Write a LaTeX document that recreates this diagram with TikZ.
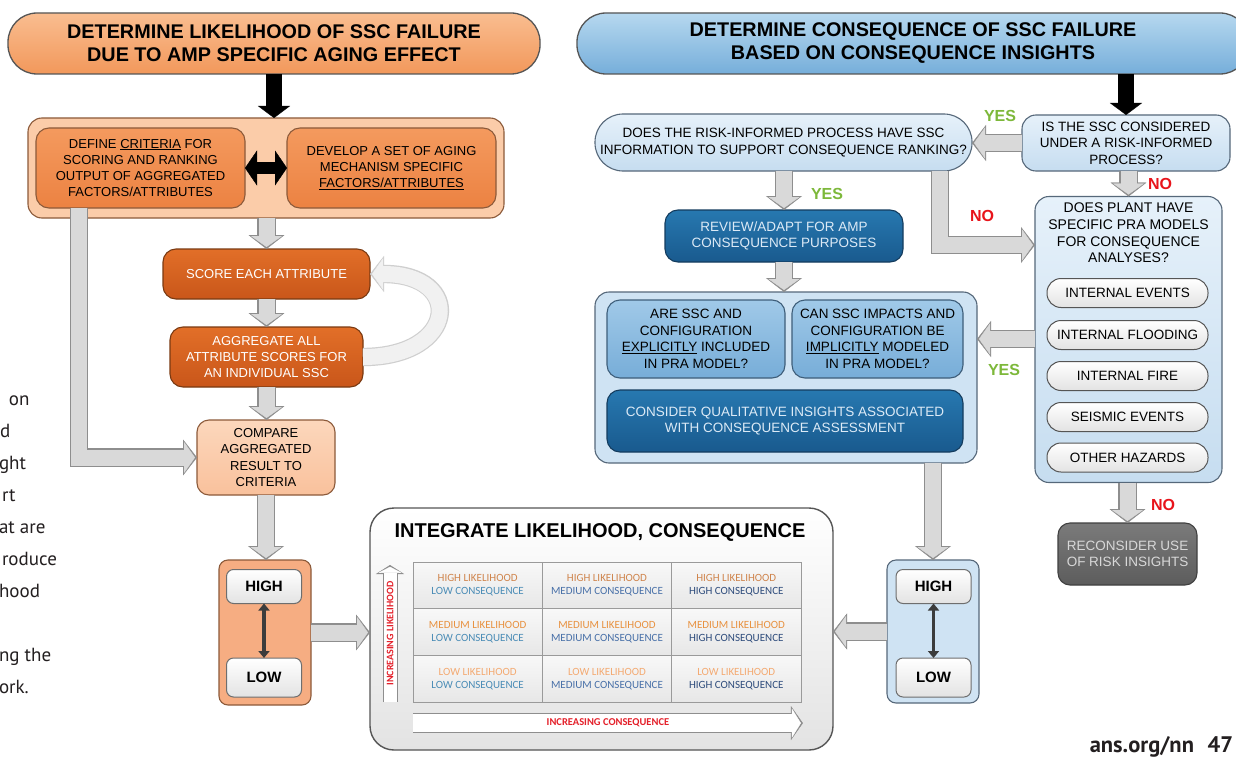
\documentclass[tikz,border=0pt]{standalone}
\usepackage{fontspec}
\setmainfont{Liberation Sans}
\newfontfamily\cellfont{Carlito}
\newfontfamily\pagefont{PT Sans}
\usepackage{tikz}
\usetikzlibrary{arrows.meta, positioning}

\definecolor{edgeDk}{HTML}{555555}
\definecolor{oTtlT}{HTML}{F9BD90}
\definecolor{oTtlB}{HTML}{F2985B}
\definecolor{oEdge}{HTML}{8C5A3A}
\definecolor{oPale}{HTML}{FBCCA9}
\definecolor{oPaleT}{HTML}{FCD7BC}
\definecolor{oPaleB}{HTML}{F9C19C}
\definecolor{oMidT}{HTML}{F49A5E}
\definecolor{oMidB}{HTML}{EC8242}
\definecolor{oDkT}{HTML}{E26F28}
\definecolor{oDkB}{HTML}{C9561A}
\definecolor{oDkEdge}{HTML}{7A3A12}
\definecolor{oHL}{HTML}{F6AD82}
\definecolor{bTtlT}{HTML}{B6D8EF}
\definecolor{bTtlB}{HTML}{76AEDA}
\definecolor{bEdge}{HTML}{56687A}
\definecolor{bPale}{HTML}{CFE3F3}
\definecolor{bPaleT}{HTML}{E6F1FA}
\definecolor{bPaleB}{HTML}{C6DDF0}
\definecolor{bMidT}{HTML}{A0C9E8}
\definecolor{bMidB}{HTML}{77ADD8}
\definecolor{bMidEdge}{HTML}{3E5E7A}
\definecolor{bDkT}{HTML}{2778B0}
\definecolor{bDkB}{HTML}{195A8E}
\definecolor{bDkEdge}{HTML}{143C5E}
\definecolor{bDkText}{HTML}{DCEAF6}
\definecolor{wB}{HTML}{E3E3E3}
\definecolor{wEdge}{HTML}{6E6E6E}
\definecolor{gyT}{HTML}{7B7B7B}
\definecolor{gyB}{HTML}{5C5C5C}
\definecolor{gyText}{HTML}{D8D8D8}
\definecolor{gFill}{HTML}{D9D9D9}
\definecolor{gEdge}{HTML}{8E8E8E}
\definecolor{lFill}{HTML}{F1F1F1}
\definecolor{lEdge}{HTML}{CFCFCF}
\definecolor{hlGray}{HTML}{3C3C3C}
\definecolor{cellT}{HTML}{F8F8F8}
\definecolor{cellB}{HTML}{E7E7E7}
\definecolor{cellEdge}{HTML}{9A9A9A}
\definecolor{likHIGH}{HTML}{CF844C}
\definecolor{likMEDIUM}{HTML}{E8913F}
\definecolor{likLOW}{HTML}{F4AA72}
\definecolor{conLOW}{HTML}{4A8CB6}
\definecolor{conMEDIUM}{HTML}{4870A8}
\definecolor{conHIGH}{HTML}{2E4C7C}
\definecolor{yesGreen}{HTML}{7DB83A}
\definecolor{noRed}{HTML}{E8141B}
\definecolor{incRed}{HTML}{E4202A}
\definecolor{pageText}{HTML}{231F20}

\newcommand{\ttlsize}{\fontsize{19.8}{23}\selectfont\bfseries}
\newcommand{\boxsize}{\fontsize{13}{16.3}\selectfont}
\newcommand{\rboxsize}{\fontsize{13.5}{16.6}\selectfont}
\newcommand{\cellsize}{\cellfont\fontsize{11}{13}\selectfont}

\begin{document}
\begin{tikzpicture}[x=1pt, y=-1pt,
    every node/.style={align=center, inner sep=0pt, outer sep=0pt},
    ttlbox/.style={draw=edgeDk, line width=1.3pt, rounded corners=29pt, font=\ttlsize},
    ocont/.style={draw=oEdge, line width=1.1pt, fill=oPale, rounded corners=14pt},
    obox/.style={draw=oEdge, line width=1.1pt, top color=oMidT, bottom color=oMidB, rounded corners=13pt, font=\boxsize},
    odark/.style={draw=oDkEdge, line width=1.1pt, top color=oDkT, bottom color=oDkB, rounded corners=13pt, font=\boxsize, text=white},
    opale/.style={draw=oEdge, line width=1.1pt, top color=oPaleT, bottom color=oPaleB, rounded corners=12pt, font=\boxsize},
    wbox/.style={draw=wEdge, line width=1pt, top color=white, bottom color=wB, rounded corners=7pt, font=\fontsize{15}{18}\selectfont\bfseries, minimum width=75pt, minimum height=34pt},
    bcont/.style={draw=bEdge, line width=1.1pt, fill=bPale, rounded corners=14pt},
    bpale/.style={draw=bEdge, line width=1.1pt, top color=bPaleT, bottom color=bPaleB, rounded corners=14pt, font=\rboxsize},
    bmid/.style={draw=bMidEdge, line width=1.1pt, top color=bMidT, bottom color=bMidB, rounded corners=13pt, font=\rboxsize},
    bdark/.style={draw=bDkEdge, line width=1.1pt, top color=bDkT, bottom color=bDkB, rounded corners=13pt, font=\rboxsize, text=bDkText},
    hzpill/.style={draw=edgeDk, line width=1pt, top color=white, bottom color=wB, rounded corners=14pt, font=\rboxsize, minimum width=161pt, minimum height=29pt},
    gybox/.style={draw=gyB!70!black, line width=1.1pt, top color=gyT, bottom color=gyB, rounded corners=12pt, font=\rboxsize, text=gyText},
    intbox/.style={draw=edgeDk, line width=1.4pt, top color=white, bottom color=wB, rounded corners=24pt},
    cell/.style={draw=cellEdge, line width=0.8pt, top color=cellT, bottom color=cellB, font=\cellsize, minimum width=129.3pt, minimum height=46.7pt},
    yes/.style={text=yesGreen, font=\fontsize{16}{18}\selectfont\bfseries},
    no/.style={text=noRed, font=\fontsize{16}{18}\selectfont\bfseries},
    pagetxt/.style={font=\pagefont\fontsize{19}{20}\selectfont, anchor=base west, text=pageText},
    garrow/.style={draw=gFill, line width=16pt, -{Triangle[length=11pt,width=31pt,line width=0.4pt]}, shorten >=2pt,
      preaction={draw=gEdge, line width=18.4pt, -{Triangle[length=14pt,width=36pt,line width=0.4pt]}, shorten >=0pt}},
    larrow/.style={draw=lFill, line width=16pt, -{Triangle[length=11pt,width=31pt,line width=0.4pt]}, shorten >=2pt,
      preaction={draw=lEdge, line width=18.4pt, -{Triangle[length=14pt,width=36pt,line width=0.4pt]}, shorten >=0pt}},
    wvarrow/.style={draw=white, line width=13pt, -{Triangle[length=6pt,width=23pt,line width=0.4pt]}, shorten >=1.8pt,
      preaction={draw=gEdge, line width=15pt, -{Triangle[length=9pt,width=28pt,line width=0.4pt]}, shorten >=0pt}},
    wharrow/.style={draw=white, line width=18pt, -{Triangle[length=9pt,width=29pt,line width=0.4pt]}, shorten >=2pt,
      preaction={draw=gEdge, line width=20pt, -{Triangle[length=12pt,width=34pt,line width=0.4pt]}, shorten >=0pt}},
    barrow/.style={draw=black, line width=16pt, -{Triangle[length=12pt,width=32pt,line width=0.4pt]}},
    dbarrow/.style={draw=black, line width=12pt, {Triangle[length=12pt,width=35pt,line width=0.4pt]}-{Triangle[length=12pt,width=35pt,line width=0.4pt]}},
    hlarrow/.style={draw=hlGray, line width=3.2pt, {Triangle[length=7pt,width=11pt]}-{Triangle[length=7pt,width=11pt]}}
  ]
  \useasboundingbox (0,0) rectangle (1236,757);
  \fill[white] (0,0) rectangle (1236,757);

  % likelihood side
  \node[ttlbox, top color=oTtlT, bottom color=oTtlB, minimum width=532pt, minimum height=61pt] (ttlL) at (274,43.5) {DETERMINE LIKELIHOOD OF SSC FAILURE\\DUE TO AMP SPECIFIC AGING EFFECT};
  \node[ocont, minimum width=476pt, minimum height=100pt] (contL) at (266,168) {};
  \node[obox, minimum width=209pt, minimum height=80pt] (crit) at (140.5,168) {DEFINE \underline{CRITERIA} FOR\\SCORING AND RANKING\\OUTPUT OF AGGREGATED\\FACTORS/ATTRIBUTES};
  \node[obox, minimum width=209pt, minimum height=80pt] (mech) at (391.5,168) {DEVELOP A SET OF AGING\\MECHANISM SPECIFIC\\\underline{FACTORS/ATTRIBUTES}};
  \node[odark, minimum width=207pt, minimum height=50pt] (score) at (266.5,274) {SCORE EACH ATTRIBUTE};
  \node[odark, minimum width=193pt, minimum height=60pt] (agg) at (266.5,357) {AGGREGATE ALL\\ATTRIBUTE SCORES FOR\\AN INDIVIDUAL SSC};
  \node[opale, minimum width=138pt, minimum height=75pt] (compare) at (266,457.5) {COMPARE\\AGGREGATED\\RESULT TO\\CRITERIA};
  \node[draw=oEdge, line width=1.1pt, fill=oHL, rounded corners=9pt, minimum width=92pt, minimum height=145pt] (hlL) at (265,632.5) {};
  \node[wbox] (highL) at (264,586.5) {HIGH};
  \node[wbox, minimum height=39pt] (lowL) at (264,677.5) {LOW};

  % consequence side
  \node[ttlbox, top color=bTtlT, bottom color=bTtlB, minimum width=672pt, minimum height=61pt] (ttlR) at (913,43.5) {DETERMINE CONSEQUENCE OF SSC FAILURE\\BASED ON CONSEQUENCE INSIGHTS};
  \node[bpale, minimum width=208pt, minimum height=56pt] (issc) at (1126,143) {IS THE SSC CONSIDERED\\UNDER A RISK-INFORMED\\PROCESS?};
  \node[bpale, rounded corners=28pt, minimum width=377pt, minimum height=57pt] (rip) at (783.5,142.5) {DOES THE RISK-INFORMED PROCESS HAVE SSC\\INFORMATION TO SUPPORT CONSEQUENCE RANKING?};
  \node[bdark, minimum width=238pt, minimum height=52pt] (review) at (784,236) {REVIEW/ADAPT FOR AMP\\CONSEQUENCE PURPOSES};
  \node[bcont, minimum width=382pt, minimum height=171pt] (contR) at (786,377.5) {};
  \node[bmid, minimum width=178pt, minimum height=78pt] (explicit) at (696,339) {ARE SSC AND\\CONFIGURATION\\\underline{EXPLICITLY} INCLUDED\\IN PRA MODEL?};
  \node[bmid, minimum width=171pt, minimum height=78pt] (implicit) at (877.5,339) {CAN SSC IMPACTS AND\\CONFIGURATION BE\\\underline{IMPLICITLY} MODELED\\IN PRA MODEL?};
  \node[bdark, minimum width=356pt, minimum height=62pt] (qual) at (785,421) {CONSIDER QUALITATIVE INSIGHTS ASSOCIATED\\WITH CONSEQUENCE ASSESSMENT};
  \node[bpale, minimum width=187pt, minimum height=286pt] (pra) at (1128.5,339.5) {};
  \node[font=\fontsize{14}{16.7}\selectfont] (praT) at (1128.5,233) {DOES PLANT HAVE\\SPECIFIC PRA MODELS\\FOR CONSEQUENCE\\ANALYSES?};
  \foreach \hz/\yc [count=\k] in {INTERNAL EVENTS/293, INTERNAL FLOODING/335, INTERNAL FIRE/376, SEISMIC EVENTS/417, OTHER HAZARDS/457.5}
    \node[hzpill] (hz\k) at (1127.5,\yc) {\hz};
  \node[gybox, minimum width=139pt, minimum height=62pt] (recon) at (1127.5,554) {RECONSIDER USE\\OF RISK INSIGHTS};
  \node[bcont, rounded corners=9pt, minimum width=92pt, minimum height=143pt] (hlR) at (933,631.5) {};
  \node[wbox] (highR) at (933.5,586.5) {HIGH};
  \node[wbox, minimum height=39pt] (lowR) at (933.5,677.5) {LOW};

  % integration matrix
  \node[intbox, minimum width=463pt, minimum height=242pt] (integ) at (601.5,629) {};
  \node[font=\fontsize{20}{23}\selectfont\bfseries] (integT) at (600,532) {INTEGRATE LIKELIHOOD, CONSEQUENCE};
  \foreach \lik [count=\row] in {HIGH,MEDIUM,LOW}
    \foreach \con [count=\col] in {LOW,MEDIUM,HIGH}
      \node[cell] (cell-\row-\col) at ({413+129.3*(\col-0.5)},{562+46.7*(\row-0.5)})
        {\textcolor{lik\lik}{\lik\ LIKELIHOOD}\\\textcolor{con\con}{\con\ CONSEQUENCE}};
  \draw[wvarrow] ([xshift=-23pt]cell-3-1.south west) -- ([xshift=-23pt,yshift=-3pt]cell-1-1.north west)
    node[midway, rotate=90, text=incRed, font=\cellfont\fontsize{10}{11}\selectfont\bfseries] (incL) {INCREASING LIKELIHOOD};
  \draw[wharrow] ([yshift=-21pt]cell-3-1.south west) -- ([yshift=-21pt,xshift=2pt]cell-3-3.south east)
    node[midway, text=incRed, font=\cellfont\fontsize{10.5}{11}\selectfont\bfseries] (incC) {INCREASING CONSEQUENCE};

  % connectors
  \draw[barrow] (ttlL.south) -- (ttlL.south |- contL.north);
  \draw[dbarrow] (crit) -- (mech);
  \draw[garrow] (contL.south -| score.north) -- (score.north);
  \draw[garrow] (score.south) -- (score.south |- agg.north);
  \draw[larrow] (agg.east) .. controls +(95,0) and +(95,0) .. (score.east);
  \draw[garrow] (agg.south) -- (agg.south |- compare.north);
  \draw[garrow] ([xshift=-61.5pt]crit.south) |- (compare.west);
  \draw[garrow] (compare.south) -- (compare.south |- hlL.north);
  \draw[garrow] (hlL.east) -- (hlL.east -| integ.west);
  \draw[hlarrow] (highL) -- (lowL);

  \draw[barrow] (ttlR.south -| issc.north) -- (issc.north);
  \draw[garrow] (issc.west) -- (issc.west -| rip.east);
  \draw[garrow] (rip.south -| review.north) -- (review.north);
  \draw[garrow] ([xshift=-32pt]rip.south east) |- ([yshift=94.5pt]pra.west);
  \draw[garrow] (issc.south -| pra.north) -- (pra.north);
  \draw[garrow] (review.south) -- (review.south |- contR.north);
  \draw[garrow] (pra.west |- explicit) -- (contR.east |- explicit);
  \draw[garrow] (contR.south -| hlR.north) -- (hlR.north);
  \draw[garrow] (hlR.west) -- (hlR.west -| integ.east);
  \draw[garrow] (pra.south -| recon.north) -- (recon.north);
  \draw[hlarrow] (highR) -- (lowR);

  % branch labels
  \node[yes] (yes1) at (1000,116) {YES};
  \node[yes] (yes2) at (827,194) {YES};
  \node[no] (no1) at (982,216) {NO};
  \node[no] (no2) at (1160,184) {NO};
  \node[yes] (yes3) at (1004,370) {YES};
  \node[no] (no3) at (1163,505) {NO};

  % page text
  \node[pagetxt] (p1) at (9,405) {on};
  \node[pagetxt] (p2) at (0,437) {d};
  \node[pagetxt] (p3) at (-1,469) {ght};
  \node[pagetxt] (p4) at (2,501) {rt};
  \node[pagetxt] (p5) at (-1,533) {at are};
  \node[pagetxt] (p6) at (2,565) {roduce};
  \node[pagetxt] (p7) at (-1,597) {hood};
  \node[pagetxt] (p8) at (-1,661) {ng the};
  \node[pagetxt] (p9) at (-1,693) {ork.};
  \node[font=\pagefont\fontsize{22.5}{24}\selectfont\bfseries, text=pageText, anchor=base east] (foot1) at (1194,752) {ans.org/nn};
  \node[font=\pagefont\fontsize{22.5}{24}\selectfont\bfseries, text=pageText, anchor=base east] (foot2) at (1233,752) {47};
\end{tikzpicture}
\end{document}
